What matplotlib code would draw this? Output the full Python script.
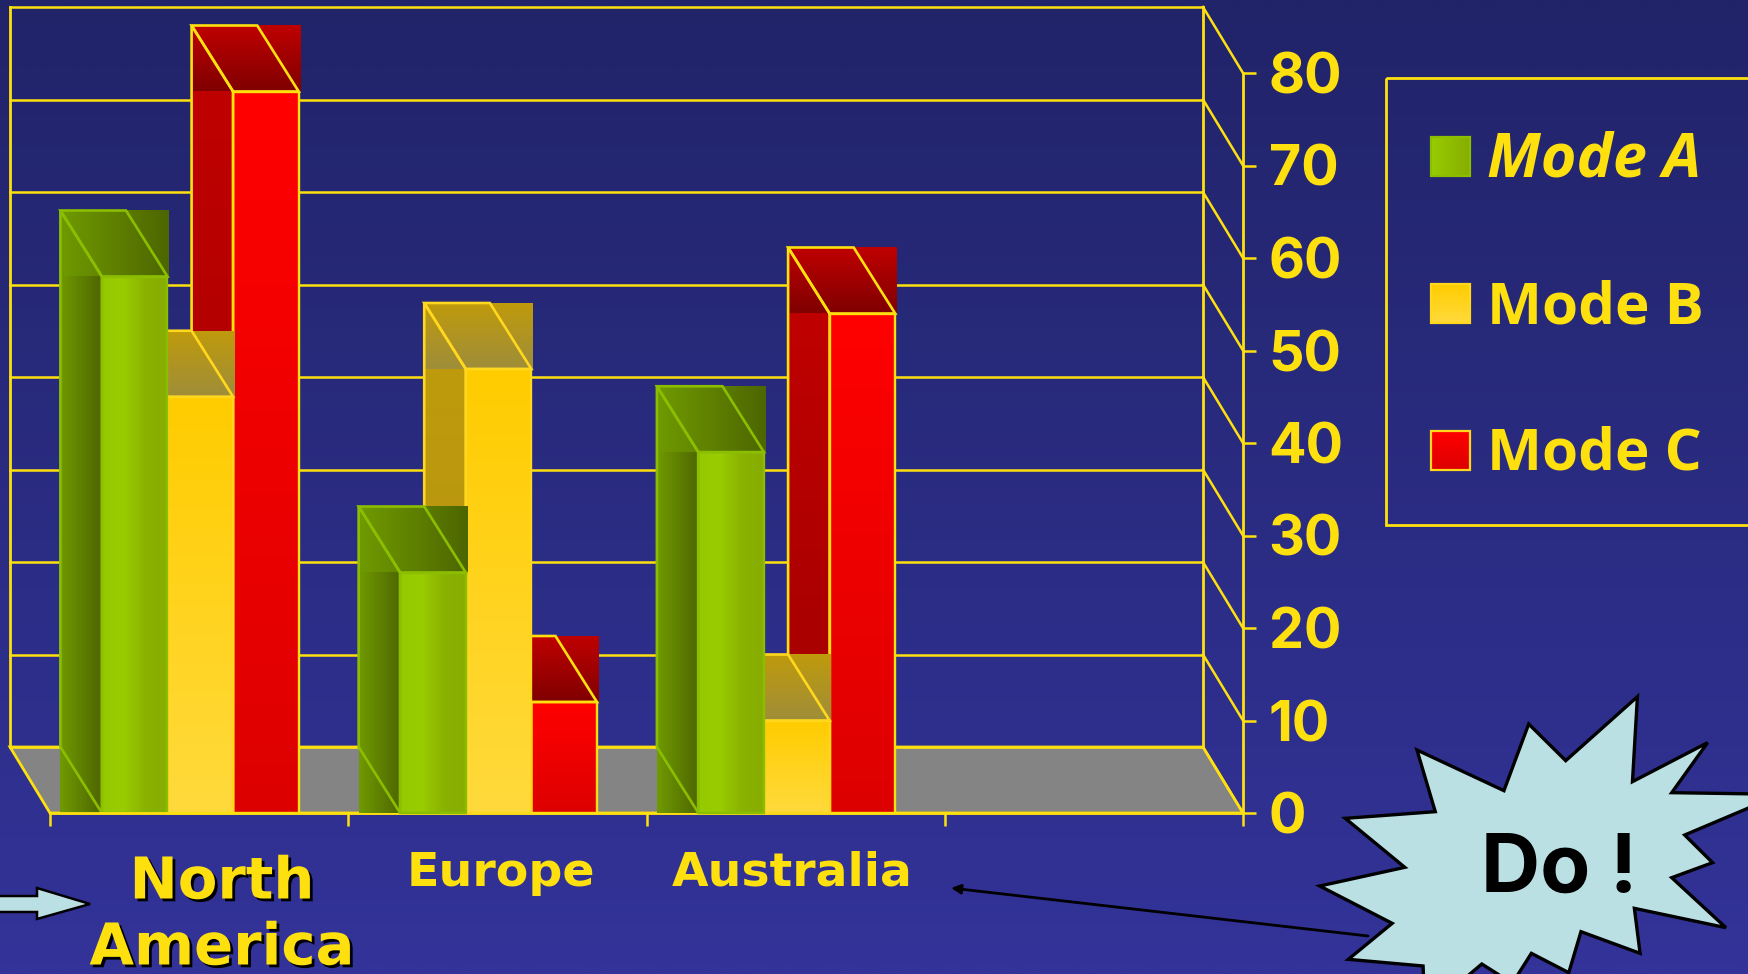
"""
3D-style bar chart slide (Mode A/B/C by region), drawn with gradients
"""
import numpy as np
import matplotlib
matplotlib.use('Agg')
import matplotlib.pyplot as plt
import matplotlib.patheffects as pe
from matplotlib.colors import to_rgb
from matplotlib.patches import Polygon, Rectangle

# Data
regions = ['North\nAmerica', 'Europe', 'Australia']
mode_a = [58, 26, 39]
mode_b = [45, 48, 10]
mode_c = [78, 12, 54]
y_ticks = list(range(0, 90, 10))
legend_labels = ['Mode A', 'Mode B', 'Mode C']

W, H = 1748, 974
YELLOW = '#FFE00F'
PALE = '#BAE0E3'
FONT = 'Open Sans'
TICK_FONT = 'Inter'

# chart frame in pixels: front plane of the box
FX0, FX1, FY0, FY1 = 50, 1243, 813, 73
PX_X = (FX1 - FX0) / 4
PX_Y = (FY0 - FY1) / 80
WALL_DX, WALL_DY = 40 / PX_X, 66 / PX_Y
BAR_DX, BAR_DY = 41.5 / PX_X, 66 / PX_Y
BAR_W = 65.6 / PX_X
BAR_START = 0.174


def grad(stops, vertical=True):
    c = np.array([to_rgb(s) for s in stops])
    t = np.linspace(0, 1, 64)
    arr = np.stack([np.interp(t, np.linspace(0, 1, len(c)), c[:, k]) for k in range(3)], axis=-1)
    return arr[:, None, :] if vertical else arr[None, :, :]


def fill(ax, extent, stops, vertical=True, z=2):
    # extent is left, right, bottom, top
    ax.imshow(grad(stops, vertical), extent=extent, origin='upper', aspect='auto',
              interpolation='bilinear', clip_on=False, zorder=z)


fig = plt.figure(figsize=(W / 100, H / 100), dpi=100)

# background + annotations, in pixels
deco = fig.add_axes([0, 0, 1, 1], zorder=0)
deco.imshow(grad(['#212469', '#333399']), extent=[0, W, H, 0], aspect='auto', interpolation='bilinear')
deco.set_xlim(0, W); deco.set_ylim(H, 0)
deco.axis('off')

# chart axes: the front plane
ax = fig.add_axes([FX0 / W, 1 - FY0 / H, (FX1 - FX0) / W, (FY0 - FY1) / H], zorder=1)
ax.patch.set_visible(False)

# floor and walls
ax.add_patch(Polygon([(-WALL_DX, WALL_DY), (4 - WALL_DX, WALL_DY), (4, 0), (0, 0)],
                     closed=True, fc='#848484', ec=YELLOW, lw=2, clip_on=False, zorder=1))
for t in y_ticks:
    ax.plot([-WALL_DX, 4 - WALL_DX], [t + WALL_DY, t + WALL_DY], color=YELLOW, lw=1.8, clip_on=False, zorder=1)
    ax.plot([4 - WALL_DX, 4], [t + WALL_DY, t], color=YELLOW, lw=1.8, clip_on=False, zorder=1)
ax.plot([-WALL_DX, -WALL_DX], [WALL_DY, 80 + WALL_DY], color=YELLOW, lw=2, clip_on=False, zorder=1)
ax.plot([4 - WALL_DX, 4 - WALL_DX], [WALL_DY, 80 + WALL_DY], color=YELLOW, lw=2, clip_on=False, zorder=1)

styles = {
    'a': dict(front=(['#96CA00', '#99CC00', '#8AB200', '#86AD00'], False), side=(['#709A00', '#4E6600'], False),
              top=(['#709A00', '#4D6600'], False), edge='#8CBE00'),
    'b': dict(front=(['#FFCC00', '#FFDA3C'], True), side=(['#BE9A0C', '#B29316'], True),
              top=(['#BF9A0C', '#9F8E3A'], True), edge='#FFD81E'),
    'c': dict(front=(['#FF0000', '#DD0000'], True), side=(['#BF0000', '#9F0000'], True),
              top=(['#BF0000', '#800000'], True), edge='#FFE00F'),
}


def draw_bar(x0, val, st, z):
    x1 = x0 + BAR_W
    xb = x0 - BAR_DX
    s = st['side']
    fill(ax, [xb, x0, 0, val], s[0], s[1], z)
    s = st['top']
    fill(ax, [xb, x1 + 0.004, val, val + BAR_DY], s[0], s[1], z)
    s = st['front']
    fill(ax, [x0, x1, 0, val], s[0], s[1], z)
    e = st['edge']
    ax.add_patch(Polygon([(xb, BAR_DY), (x0, 0), (x0, val), (xb, val + BAR_DY)], closed=True,
                         fill=False, ec=e, lw=1.9, clip_on=False, zorder=z + 0.1))
    ax.add_patch(Polygon([(xb, val + BAR_DY), (x1 - BAR_DX, val + BAR_DY), (x1, val), (x0, val)], closed=True,
                         fill=False, ec=e, lw=1.9, clip_on=False, zorder=z + 0.1))
    ax.add_patch(Rectangle((x0, 0), BAR_W, val, fill=False, ec=e, lw=1.7, clip_on=False, zorder=z + 0.1))


# back to front within each group: C, then B, then A
for i in range(len(regions)):
    start = i + BAR_START
    draw_bar(start + 2 * BAR_W, mode_c[i], styles['c'], 2 + i)
    draw_bar(start + BAR_W, mode_b[i], styles['b'], 2.2 + i)
    draw_bar(start, mode_a[i], styles['a'], 2.4 + i)

ax.set_xlim(0, 4)
ax.set_ylim(0, 80)
ax.set_xticks([0, 1, 2, 3, 4])
ax.set_xticklabels([])
ax.yaxis.tick_right()
ax.set_yticks(y_ticks)
ax.set_yticklabels([str(t) for t in y_ticks], fontsize=40, fontweight='bold', family=TICK_FONT, color=YELLOW)
ax.tick_params(axis='both', color=YELLOW, length=9.4, width=1.8)
ax.tick_params(axis='y', pad=9)
for side in ['top', 'left']:
    ax.spines[side].set_visible(False)
for side in ['right', 'bottom']:
    ax.spines[side].set_color(YELLOW)
    ax.spines[side].set_linewidth(2)

# region labels
shadow = [pe.withSimplePatchShadow(offset=(2, -2), shadow_rgbFace='black', alpha=1.0)]
deco.text(222, 915, regions[0], ha='center', va='center', fontsize=41.5, fontweight='bold', family='DejaVu Sans',
          color=YELLOW, linespacing=1.2, path_effects=shadow)
deco.text(501, 873, regions[1], ha='center', va='center', fontsize=34.2, fontweight='bold', family='DejaVu Sans', color=YELLOW)
deco.text(792, 873, regions[2], ha='center', va='center', fontsize=34, fontweight='bold', family='DejaVu Sans', color=YELLOW)

# legend
deco.add_patch(Rectangle((1386, 78), 500, 447, fill=False, ec=YELLOW, lw=2))
swatch_y = [137, 284, 431]
swatch_stops = [(['#99CC00', '#86AD00'], False), (['#FFCC00', '#FFDA3C'], True), (['#FF0000', '#DD0000'], True)]
swatch_edge = ['#8CBE00', '#FFD81E', '#FFD81E']
for k, lab in enumerate(legend_labels):
    y = swatch_y[k]
    fill(deco, [1431, 1470, y + 39, y], swatch_stops[k][0], swatch_stops[k][1], 3)
    deco.add_patch(Rectangle((1431, y), 39, 39, fill=False, ec=swatch_edge[k], lw=1.6, zorder=4))
    deco.text(1487, y + 24, lab, ha='left', va='center', fontsize=44 if k == 0 else 42, fontweight='bold', family=FONT,
              color=YELLOW, style='italic' if k == 0 else 'normal')
deco.set_xlim(0, W); deco.set_ylim(H, 0)

# arrow at far left
deco.add_patch(Polygon([(-5, 896), (37, 896), (37, 888), (90, 904), (37, 919), (37, 912), (-5, 912)],
                       closed=True, fc=PALE, ec='black', lw=1.8, zorder=4))

# starburst callout
star_x = [700, 928, 993, 1090, 1278, 1265, 1462, 1368, 1654, 1402, 1475, 1368, 1510, 1270, 1285, 1130, 1098, 1000,
          950, 870, 810, 718, 716, 520, 635, 445, 668, 512, 748]
star_y = [450, 572, 372, 482, 290, 545, 428, 578, 583, 705, 788, 833, 983, 925, 1060, 995, 1118, 1060,
          1150, 1092, 1150, 1150, 1098, 1078, 970, 858, 802, 655, 635]
star = [(1150 + x / 2.622, 600 + y / 3) for x, y in zip(star_x, star_y)]
deco.add_patch(Polygon(star, closed=True, fc=PALE, ec='black', lw=2.4, joinstyle='miter', zorder=4))
deco.text(1559, 871, 'Do !', ha='center', va='center', fontsize=59, fontweight='bold', family=TICK_FONT, color='black', zorder=5)

# pointer to the labels
deco.annotate('', xy=(951, 888), xytext=(1368, 936),
              arrowprops=dict(arrowstyle='-|>', color='black', lw=2, mutation_scale=14, shrinkA=0, shrinkB=0), zorder=5)

fig.savefig('out.png', dpi=100)
print('Saved: out.png')
